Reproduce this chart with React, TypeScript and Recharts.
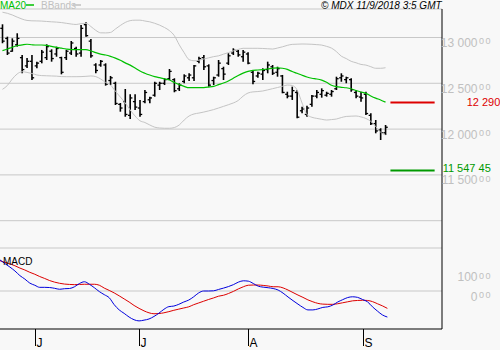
import React from "react";
import { ComposedChart, Bar, Line, XAxis, YAxis, CartesianGrid, ReferenceLine } from "recharts";

const FONT = '"Liberation Sans", Arial, sans-serif';
const NARROW = '"Liberation Sans Narrow", "Arial Narrow", "Liberation Sans", sans-serif';
const BG = "#f8f8f8";
const GRID = "#c8c8c8";
const AXIS_TEXT = "#c0c0c0";
const MA_GREEN = "#00c000";
const BAND_GRAY = "#c4c4c4";
const RED = "#dd0000";
const DARK_GREEN = "#009900";
const BLUE = "#0000dd";

// daily sessions, late May -> 10 Sep 2018
const opens = [
  13100, 12990, 12850, 12920, 12780, 12690, 12740, 12690, 12740, 12780,
  12850, 12820, 12780, 12780, 12830, 12880, 12830, 13140, 12960, 12700,
  12700, 12700, 12530, 12500, 12270, 12300, 12150, 12300, 12230, 12300,
  12320, 12370, 12480, 12500, 12550, 12540, 12440, 12520, 12560, 12560,
  12740, 12780, 12690, 12530, 12590, 12660, 12720, 12830, 12850, 12790,
  12820, 12620, 12580, 12600, 12650, 12680, 12620, 12580, 12380, 12360,
  12400, 12200, 12160, 12270, 12360, 12380, 12370, 12380, 12440, 12560,
  12540, 12540, 12400, 12350, 12380, 12150, 12060, 11990, 11960,
];
const highs = [
  13144, 13009, 12991, 13046, 12809, 12776, 12809, 12736, 12864, 12926,
  12871, 12900, 12790, 12864, 12962, 12900, 13136, 13166, 12984, 12718,
  12754, 12718, 12580, 12517, 12285, 12438, 12380, 12380, 12318, 12427,
  12354, 12517, 12517, 12555, 12656, 12555, 12500, 12598, 12609, 12700,
  12790, 12809, 12707, 12572, 12754, 12681, 12828, 12882, 12864, 12864,
  12838, 12634, 12627, 12664, 12736, 12700, 12681, 12591, 12408, 12463,
  12427, 12245, 12256, 12372, 12427, 12445, 12408, 12427, 12572, 12609,
  12572, 12555, 12427, 12408, 12408, 12172, 12099, 12009, 12045,
];
const lows = [
  12937, 12809, 12845, 12900, 12609, 12667, 12536, 12664, 12718, 12754,
  12736, 12790, 12598, 12754, 12809, 12790, 12790, 13009, 12779, 12609,
  12681, 12474, 12481, 12263, 12190, 12135, 12110, 12209, 12135, 12282,
  12282, 12354, 12427, 12481, 12536, 12402, 12416, 12500, 12525, 12525,
  12718, 12645, 12463, 12481, 12572, 12536, 12700, 12809, 12790, 12736,
  12707, 12489, 12561, 12536, 12609, 12591, 12572, 12391, 12336, 12318,
  12118, 12172, 12135, 12245, 12336, 12343, 12354, 12354, 12427, 12517,
  12500, 12408, 12336, 12299, 12154, 12045, 11954, 11881, 11936,
];
const closes = [
  12960, 12830, 12960, 12990, 12650, 12740, 12560, 12720, 12840, 12900,
  12770, 12880, 12620, 12850, 12940, 12820, 13100, 13020, 12800, 12640,
  12740, 12490, 12560, 12280, 12230, 12160, 12340, 12240, 12160, 12400,
  12340, 12500, 12500, 12540, 12630, 12420, 12480, 12580, 12590, 12690,
  12770, 12680, 12480, 12560, 12720, 12600, 12800, 12860, 12810, 12840,
  12720, 12520, 12610, 12640, 12700, 12610, 12660, 12400, 12360, 12420,
  12130, 12220, 12230, 12360, 12400, 12420, 12390, 12410, 12550, 12580,
  12560, 12430, 12360, 12340, 12170, 12060, 11980, 11960, 12020,
];
const ma20 = [
  12857, 12874, 12894, 12910, 12919, 12926, 12921, 12918, 12918, 12913,
  12903, 12892, 12883, 12874, 12868, 12867, 12868, 12867, 12853, 12835,
  12819, 12809, 12794, 12775, 12751, 12723, 12698, 12667, 12634, 12610,
  12590, 12573, 12561, 12549, 12536, 12509, 12486, 12466, 12452, 12452,
  12452, 12453, 12459, 12467, 12485, 12503, 12525, 12555, 12585, 12611,
  12630, 12641, 12645, 12650, 12656, 12664, 12669, 12664, 12652, 12628,
  12609, 12588, 12569, 12555, 12547, 12534, 12511, 12479, 12463, 12456,
  12451, 12440, 12421, 12405, 12390, 12362, 12338, 12318, 12294,
];
const bbUpper = [
  13276, 13264, 13246, 13222, 13201, 13186, 13182, 13181, 13179, 13175,
  13171, 13168, 13163, 13155, 13147, 13142, 13151, 13155, 13120, 13078,
  13051, 13050, 13055, 13093, 13131, 13164, 13184, 13189, 13189, 13180,
  13171, 13155, 13135, 13109, 13075, 13020, 12920, 12834, 12758, 12746,
  12752, 12765, 12778, 12791, 12800, 12818, 12835, 12854, 12870, 12882,
  12882, 12882, 12882, 12880, 12877, 12874, 12885, 12898, 12914, 12925,
  12927, 12929, 12928, 12926, 12922, 12917, 12903, 12884, 12846, 12796,
  12770, 12740, 12724, 12706, 12699, 12681, 12664, 12664, 12670,
];
const bbLower = [
  12434, 12476, 12547, 12602, 12626, 12619, 12607, 12591, 12584, 12582,
  12580, 12578, 12573, 12572, 12572, 12572, 12573, 12576, 12580, 12573,
  12547, 12510, 12481, 12413, 12350, 12285, 12209, 12143, 12091, 12072,
  12045, 12021, 12012, 12009, 12009, 12017, 12045, 12099, 12143, 12165,
  12175, 12186, 12199, 12213, 12230, 12248, 12266, 12285, 12312, 12360,
  12394, 12406, 12410, 12416, 12428, 12441, 12454, 12467, 12481, 12476,
  12427, 12285, 12159, 12129, 12117, 12107, 12099, 12104, 12110, 12126,
  12138, 12141, 12143, 12133, 12116, 12085, 12028, 11965, 11936,
];
const macd = [
  161, 142, 124, 104, 80, 62, 41, 30, 19, 19,
  18, 14, 9, 12, 13, 22, 39, 48, 35, 17,
  -3, -19, -35, -71, -98, -116, -135, -149, -155, -151,
  -145, -132, -115, -95, -81, -78, -69, -57, -47, -30,
  -10, 0, 0, 1, 8, 15, 23, 33, 46, 53,
  51, 39, 25, 20, 17, 13, 5, -11, -31, -50,
  -68, -85, -98, -98, -93, -85, -82, -73, -57, -45,
  -34, -30, -33, -44, -56, -82, -104, -124, -135,
];
const signal = [
  157, 149, 141, 131, 119, 109, 97, 87, 75, 65,
  54, 46, 40, 36, 34, 33, 34, 35, 35, 35,
  30, 15, 3, -10, -25, -41, -57, -75, -90, -103,
  -113, -118, -117, -113, -107, -100, -94, -88, -82, -71,
  -62, -53, -44, -36, -27, -22, -13, -2, 11, 22,
  30, 31, 31, 29, 26, 22, 22, 16, 5, -8,
  -21, -33, -46, -56, -64, -68, -69, -69, -66, -61,
  -56, -51, -49, -48, -49, -55, -66, -77, -90,
];

const monthTickIndex = [7, 28, 50, 73];
const monthTickLabels = ["J", "J", "A", "S"];
const priceTicks = [11000, 11500, 12000, 12500, 13000];
const macdTicks = [0, 100];
const resistance = 12290;
const resistanceLabel = "12 290";
const support = 11547.45;
const supportLabel = "11 547 45";
const EMPTY_SLOTS = 11; // room on the right of the last session
const levelFrom = 79;
const levelTo = 88;

const rows = Array.from({ length: highs.length + EMPTY_SLOTS }, (_, i) =>
  i < highs.length
    ? {
        i,
        open: opens[i],
        high: highs[i],
        low: lows[i],
        close: closes[i],
        range: [lows[i], highs[i]],
        ma20: ma20[i],
        bbUpper: bbUpper[i],
        bbLower: bbLower[i],
        macd: macd[i],
        signal: signal[i],
      }
    : { i }
);

const fmt = (v: number) =>
  v >= 1000 ? `${Math.floor(v / 1000)} ${String(v % 1000).padStart(3, "0")}` : String(v);

const ValueTick = (props: any) => {
  const { x, y, payload } = props;
  if (payload.value === 11000) return <g />;
  return (
    <text x={x + 50} y={y + 9.5} textAnchor="end" fill={AXIS_TEXT} fontSize={12} fontFamily={NARROW}>
      {fmt(payload.value)}
      <tspan fontSize={9} dx={1.5} dy={-2.5} letterSpacing={1.5} fontFamily={FONT}>
        00
      </tspan>
    </text>
  );
};

const MonthTick = (props: any) => {
  const { x, y, payload } = props;
  const k = monthTickIndex.indexOf(payload.value);
  const lx = Math.round(x) + 0.5;
  return (
    <g>
      <line x1={lx} x2={lx} y1={y} y2={y + 17} stroke="#000" />
      <text x={lx + 1} y={y + 18} fontSize={12} fontFamily={FONT} fill="#000">
        {monthTickLabels[k]}
      </text>
    </g>
  );
};

const OhlcBar = (props: any) => {
  const { x, y, width, height, payload } = props;
  if (!payload || payload.high == null) return <g />;
  const cx = x + width / 2;
  const top = Math.min(y, y + height);
  const h = Math.abs(height);
  const span = payload.high - payload.low || 1;
  const yAt = (v: number) => top + ((payload.high - v) / span) * h;
  return (
    <g stroke="#000">
      <line x1={cx} x2={cx} y1={top} y2={top + h} strokeWidth={1.6} />
      <line x1={cx - 2.2} x2={cx} y1={yAt(payload.open)} y2={yAt(payload.open)} strokeWidth={1.3} />
      <line x1={cx} x2={cx + 2.2} y1={yAt(payload.close)} y2={yAt(payload.close)} strokeWidth={1.3} />
    </g>
  );
};

export default function App() {
  return (
    <div style={{ position: "absolute", left: 0, top: 0, width: 500, height: 350, background: BG, overflow: "hidden" }}>
      <div style={{ position: "absolute", left: 0, top: 0 }}>
        <ComposedChart width={500} height={250} data={rows} margin={{ top: 9, right: 0, left: 0, bottom: 2 }}>
          <CartesianGrid vertical={false} stroke={GRID} />
          <XAxis
            dataKey="i"
            type="category"
            height={0}
            tick={false}
            tickLine={false}
            axisLine={{ stroke: "#000", strokeWidth: 2 }}
          />
          <YAxis
            orientation="right"
            width={58}
            domain={[10702, 13311]}
            ticks={priceTicks}
            interval={0}
            allowDataOverflow
            tickLine={false}
            tickSize={0}
            tickMargin={0}
            axisLine={{ stroke: "#000" }}
            tick={(p: any) => <ValueTick {...p} />}
          />
          <Line dataKey="bbUpper" type="monotone" stroke={BAND_GRAY} strokeWidth={1} dot={false} activeDot={false} isAnimationActive={false} />
          <Line dataKey="bbLower" type="monotone" stroke={BAND_GRAY} strokeWidth={1} dot={false} activeDot={false} isAnimationActive={false} />
          <Line dataKey="ma20" type="monotone" stroke={MA_GREEN} strokeWidth={1.2} dot={false} activeDot={false} isAnimationActive={false} />
          <Bar dataKey="range" barSize={3} shape={(p: any) => <OhlcBar {...p} />} isAnimationActive={false} />
          <ReferenceLine
            segment={[{ x: levelFrom, y: resistance }, { x: levelTo, y: resistance }]}
            stroke={RED}
            strokeWidth={2}
            label={{ value: resistanceLabel, position: "right", offset: 32, fill: RED, fontSize: 11, fontFamily: FONT }}
          />
          <ReferenceLine
            segment={[{ x: levelFrom, y: support }, { x: levelTo, y: support }]}
            stroke={DARK_GREEN}
            strokeWidth={2}
            label={{ value: supportLabel, position: "right", offset: 8, fill: DARK_GREEN, fontSize: 11, fontFamily: FONT, dy: -2 }}
          />
        </ComposedChart>
      </div>
      <div style={{ position: "absolute", left: 0, top: 248 }}>
        <ComposedChart width={500} height={102} data={rows} margin={{ top: 0, right: 0, left: 0, bottom: 0 }}>
          <XAxis
            dataKey="i"
            type="category"
            height={21}
            ticks={monthTickIndex}
            interval={0}
            tickLine={false}
            tickSize={0}
            tickMargin={0}
            axisLine={{ stroke: "#000" }}
            tick={(p: any) => <MonthTick {...p} />}
          />
          <YAxis
            orientation="right"
            width={58}
            domain={[-197, 223]}
            ticks={macdTicks}
            interval={0}
            allowDataOverflow
            tickLine={false}
            tickSize={0}
            tickMargin={0}
            axisLine={{ stroke: "#000" }}
            tick={(p: any) => <ValueTick {...p} />}
          />
          <ReferenceLine y={0} stroke={GRID} />
          <Line dataKey="signal" type="monotone" stroke={RED} strokeWidth={1} dot={false} activeDot={false} isAnimationActive={false} />
          <Line dataKey="macd" type="monotone" stroke={BLUE} strokeWidth={1} dot={false} activeDot={false} isAnimationActive={false} />
        </ComposedChart>
      </div>
      <svg width={500} height={350} style={{ position: "absolute", left: 0, top: 0, pointerEvents: "none" }}>
        <text x={0} y={8.5} fontSize={10} fontFamily={FONT} fill={MA_GREEN}>MA20</text>
        <line x1={26} x2={34} y1={5} y2={5} stroke={MA_GREEN} strokeWidth={1.5} />
        <text x={41} y={8.5} fontSize={10} fontFamily={FONT} fill={AXIS_TEXT}>BBands</text>
        <line x1={73} x2={81} y1={5} y2={5} stroke={AXIS_TEXT} strokeWidth={1.5} />
        <text x={321} y={8.5} fontSize={10} fontStyle="italic" fontFamily={FONT} fill="#000">
          © MDX 11/9/2018 3:5 GMT
        </text>
        <text x={3} y={264.5} fontSize={10} fontFamily={FONT} fill="#000">MACD</text>
      </svg>
    </div>
  );
}
